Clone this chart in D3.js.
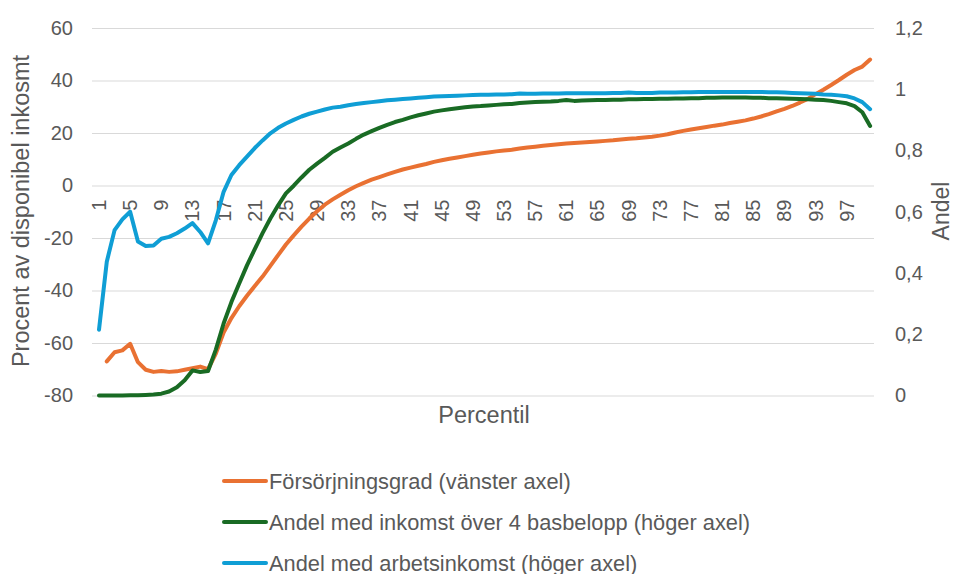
<!DOCTYPE html>
<html>
<head>
<meta charset="UTF-8">
<title>Försörjningsgrad per percentil</title>
<script src="https://cdn.jsdelivr.net/npm/d3@7"></script>
<style>
  body { margin: 0; background: #fff; }
  svg text { font-family: "Liberation Sans", Arial, sans-serif; fill: #595959; }
</style>
</head>
<body>
<svg id="chart" width="955" height="574"></svg>
<script>
// percentiles 1..100
const percentiles = d3.range(1, 101);

// Försörjningsgrad (vänster axel), percent; first percentile missing
const forsorjning = [null, -67.0, -63.5, -62.8, -60.3, -67.3, -70.2, -71.0, -70.7, -71.0,
  -70.8, -70.2, -69.6, -69.0, -70.0, -64.0, -56.0, -50.5, -46.0, -42.0,
  -38.3, -34.7, -30.6, -26.5, -22.5, -19.0, -15.7, -12.6, -9.8, -7.3,
  -5.3, -3.5, -1.8, -0.3, 1.0, 2.2, 3.2, 4.2, 5.2, 6.1,
  6.8, 7.5, 8.2, 9.0, 9.6, 10.2, 10.7, 11.2, 11.7, 12.2,
  12.6, 13.0, 13.3, 13.6, 14.1, 14.5, 14.8, 15.1, 15.4, 15.7,
  16.0, 16.2, 16.4, 16.6, 16.8, 17.0, 17.2, 17.5, 17.8, 18.0,
  18.3, 18.6, 19.0, 19.5, 20.2, 20.8, 21.3, 21.8, 22.3, 22.8,
  23.2, 23.8, 24.3, 24.8, 25.5, 26.3, 27.2, 28.2, 29.2, 30.3,
  31.6, 33.0, 34.8, 36.5, 38.3, 40.2, 42.2, 44.0, 45.3, 48.0];

// Andel med inkomst över 4 basbelopp (höger axel)
const andelBasbelopp = [0.0, 0.0, 0.0, 0.0, 0.001, 0.001, 0.002, 0.003, 0.006, 0.013,
  0.027, 0.05, 0.082, 0.077, 0.08, 0.15, 0.235, 0.305, 0.366, 0.425,
  0.478, 0.53, 0.578, 0.621, 0.66, 0.685, 0.712, 0.737, 0.757, 0.776,
  0.796, 0.81, 0.823, 0.838, 0.852, 0.863, 0.874, 0.884, 0.893, 0.9,
  0.908, 0.915, 0.921, 0.927, 0.931, 0.935, 0.938, 0.941, 0.944, 0.945,
  0.947, 0.949, 0.951, 0.952, 0.955, 0.957, 0.958, 0.959, 0.96, 0.962,
  0.965, 0.962, 0.963, 0.964, 0.965, 0.965, 0.966, 0.966, 0.967, 0.967,
  0.968, 0.968, 0.969, 0.969, 0.97, 0.97, 0.971, 0.971, 0.972, 0.972,
  0.973, 0.973, 0.973, 0.973, 0.972, 0.972, 0.971, 0.971, 0.97, 0.969,
  0.968, 0.967, 0.966, 0.965, 0.962, 0.958, 0.954, 0.945, 0.925, 0.88];

// Andel med arbetsinkomst (höger axel)
const andelArbete = [0.215, 0.437, 0.54, 0.575, 0.6, 0.503, 0.488, 0.49, 0.512, 0.518,
  0.53, 0.545, 0.563, 0.534, 0.497, 0.572, 0.665, 0.72, 0.752, 0.78,
  0.808, 0.833, 0.856, 0.874, 0.888, 0.9, 0.911, 0.92, 0.927, 0.934,
  0.94, 0.943, 0.948, 0.952, 0.955, 0.958, 0.961, 0.964, 0.966, 0.968,
  0.97, 0.972, 0.974, 0.976, 0.977, 0.978, 0.979, 0.98, 0.981, 0.982,
  0.982, 0.983, 0.983, 0.984, 0.986, 0.985, 0.985, 0.986, 0.986, 0.986,
  0.987, 0.987, 0.987, 0.987, 0.987, 0.987, 0.988, 0.988, 0.989, 0.988,
  0.988, 0.988, 0.989, 0.989, 0.989, 0.99, 0.99, 0.991, 0.991, 0.991,
  0.991, 0.991, 0.991, 0.991, 0.991, 0.991, 0.99, 0.99, 0.989, 0.988,
  0.987, 0.986, 0.985, 0.983, 0.982, 0.98, 0.977, 0.97, 0.958, 0.935];

const leftTicks = [-80, -60, -40, -20, 0, 20, 40, 60];
const rightTicks = [0, 0.2, 0.4, 0.6, 0.8, 1, 1.2];

const series = [
  { name: "Försörjningsgrad (vänster axel)", values: forsorjning, axis: "left", color: "#E97132" },
  { name: "Andel med inkomst över 4 basbelopp (höger axel)", values: andelBasbelopp, axis: "right", color: "#196B24" },
  { name: "Andel med arbetsinkomst (höger axel)", values: andelArbete, axis: "right", color: "#0F9ED5" }
];

const svg = d3.select("#chart");
const plot = { left: 92, right: 874, top: 28, bottom: 395.5 };

const x = d3.scaleBand().domain(percentiles).range([95.1, 874]);
const yL = d3.scaleLinear().domain([-80, 60]).range([plot.bottom, plot.top]);
const yR = d3.scaleLinear().domain([0, 1.2]).range([plot.bottom, plot.top]);
const cx = p => x(p) + x.bandwidth() / 2;

// gridlines
svg.append("g")
  .attr("transform", "translate(" + plot.left + ",0)")
  .call(d3.axisLeft(yL).tickValues(leftTicks).tickSize(-(plot.right - plot.left)).tickFormat(""))
  .call(g => g.select(".domain").remove())
  .call(g => g.selectAll("line").attr("stroke", "#d9d9d9").attr("stroke-width", 1));

// left axis labels (plain hyphen minus like Excel)
svg.append("g")
  .attr("transform", "translate(73,0)")
  .call(d3.axisLeft(yL).tickValues(leftTicks).tickSize(0).tickPadding(0).tickFormat(d => String(d)))
  .call(g => g.select(".domain").remove())
  .call(g => g.selectAll("text").style("font-size", "20px").attr("fill", "#595959"));

// right axis labels
const commaFmt = d => String(+d.toFixed(1)).replace(".", ",");
svg.append("g")
  .attr("transform", "translate(895,0)")
  .call(d3.axisRight(yR).tickValues(rightTicks).tickSize(0).tickPadding(0).tickFormat(commaFmt))
  .call(g => g.select(".domain").remove())
  .call(g => g.selectAll("text").style("font-size", "20px").attr("fill", "#595959"));

// category axis, crossing at 0 on left axis
svg.append("g")
  .attr("transform", "translate(0," + yL(0) + ")")
  .call(d3.axisBottom(x).tickValues(percentiles.filter(p => (p - 1) % 4 === 0)).tickSize(0))
  .call(g => g.select(".domain").remove())
  .call(g => g.selectAll("text")
    .style("font-size", "20px")
    .attr("fill", "#595959")
    .attr("text-anchor", "end")
    .attr("dy", null)
    .attr("y", 0)
    .attr("dominant-baseline", "central")
    .attr("transform", "translate(0,14) rotate(-90)"));

// lines
series.forEach(s => {
  const yScale = s.axis === "left" ? yL : yR;
  const line = d3.line()
    .defined(d => d.v !== null)
    .x(d => cx(d.p))
    .y(d => yScale(d.v));
  svg.append("path")
    .datum(percentiles.map((p, i) => ({ p: p, v: s.values[i] })))
    .attr("fill", "none")
    .attr("stroke", s.color)
    .attr("stroke-width", 4)
    .attr("stroke-linejoin", "round")
    .attr("stroke-linecap", "round")
    .attr("d", line);
});

// axis titles
svg.append("text")
  .attr("transform", "translate(29,211) rotate(-90)")
  .attr("text-anchor", "middle")
  .style("font-size", "23.5px")
  .text("Procent av disponibel inkosmt");

svg.append("text")
  .attr("transform", "translate(949,211) rotate(-90)")
  .attr("text-anchor", "middle")
  .style("font-size", "23px")
  .text("Andel");

svg.append("text")
  .attr("x", 484)
  .attr("y", 423)
  .attr("text-anchor", "middle")
  .style("font-size", "23.5px")
  .text("Percentil");

// legend
const legend = svg.append("g");
series.forEach((s, i) => {
  const ly = 481 + i * 41;
  legend.append("line")
    .attr("x1", 224).attr("x2", 266)
    .attr("y1", ly).attr("y2", ly)
    .attr("stroke", s.color)
    .attr("stroke-width", 4)
    .attr("stroke-linecap", "round");
  legend.append("text")
    .attr("x", 269)
    .attr("y", ly)
    .attr("dominant-baseline", "central")
    .style("font-size", "21.8px")
    .text(s.name);
});
</script>
</body>
</html>
